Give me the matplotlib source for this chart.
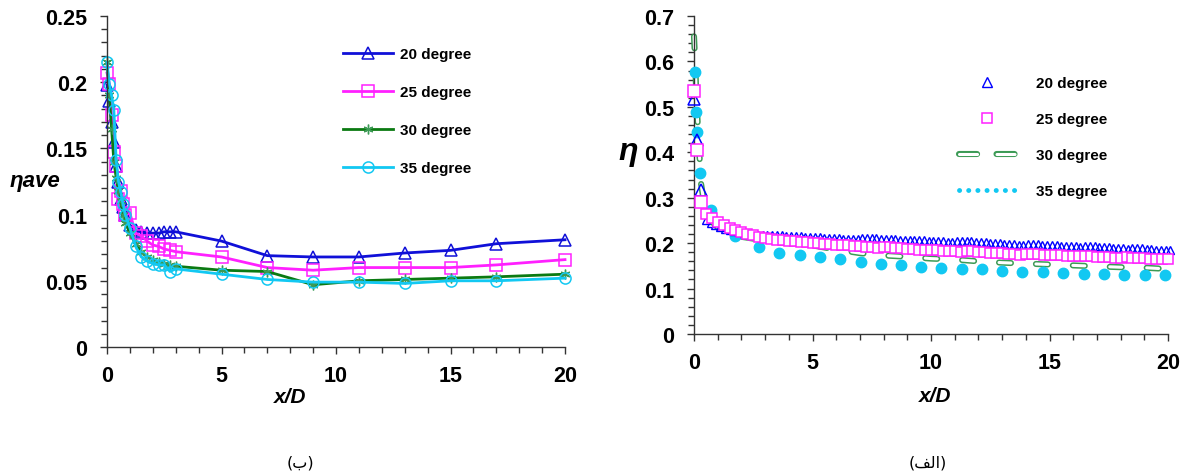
import numpy as np
import matplotlib
matplotlib.use('Agg')
import matplotlib.pyplot as plt
from matplotlib.lines import Line2D
from matplotlib.ticker import MultipleLocator, FuncFormatter
from matplotlib.legend_handler import HandlerTuple

plt.rcParams['font.family'] = ['Liberation Sans', 'DejaVu Sans']
plt.rcParams['font.weight'] = 'bold'
plt.rcParams['lines.scale_dashes'] = False

# ---------------- left chart (b): averaged effectiveness ----------------
labels = ['20 degree', '25 degree', '30 degree', '35 degree']

x_left = [0, 0.1, 0.2, 0.3, 0.4, 0.5, 0.6, 0.7, 0.8, 1.0, 1.25, 1.5, 1.75, 2.0,
          2.25, 2.5, 2.75, 3.0, 5, 7, 9, 11, 13, 15, 17, 20]
eta_ave_20 = [0.198, 0.186, 0.170, 0.155, 0.137, 0.125, 0.112, 0.106, 0.100, 0.092,
              0.088, 0.087, 0.086, 0.086, 0.086, 0.087, 0.087, 0.087,
              0.080, 0.069, 0.068, 0.068, 0.071, 0.073, 0.078, 0.081]
eta_ave_25 = [0.207, 0.199, 0.175, 0.147, 0.137, 0.112, 0.118, 0.108, 0.100, 0.101,
              0.086, 0.084, 0.080, 0.077, 0.076, 0.074, 0.073, 0.072,
              0.068, 0.060, 0.058, 0.060, 0.060, 0.060, 0.062, 0.066]
eta_ave_30 = [0.215, 0.190, 0.165, 0.140, 0.128, 0.118, 0.110, 0.100, 0.094, 0.086,
              0.078, 0.072, 0.068, 0.066, 0.064, 0.063, 0.062, 0.061,
              0.058, 0.057, 0.047, 0.050, 0.051, 0.052, 0.053, 0.055]
eta_ave_35 = [0.215, 0.199, 0.190, 0.179, 0.141, 0.125, 0.117, 0.108, 0.100, 0.090,
              0.076, 0.068, 0.065, 0.063, 0.062, 0.062, 0.057, 0.059,
              0.055, 0.051, 0.049, 0.049, 0.048, 0.050, 0.050, 0.052]

# ---------------- right chart (alef): local effectiveness ----------------
# 20 degree: three near-hole points, then dense stations every 0.2 x/D
x_20_near = [0.0, 0.14, 0.28]
eta_20_near = [0.518, 0.426, 0.316]
x_20 = np.round(np.arange(0.5, 20.2, 0.2), 2)
eta_20 = [0.252, 0.245, 0.240, 0.236, 0.232, 0.229, 0.227, 0.225, 0.223, 0.221, 0.220, 0.218, 0.217,
          0.218, 0.218, 0.217, 0.217, 0.216, 0.216, 0.215, 0.215, 0.214, 0.214,
          0.213, 0.213, 0.212, 0.212, 0.211, 0.211, 0.210, 0.210, 0.210, 0.209,
          0.212, 0.212, 0.211, 0.211, 0.210, 0.210, 0.209, 0.209, 0.208, 0.208,
          0.207, 0.207, 0.206, 0.206, 0.205, 0.205, 0.204, 0.204, 0.203, 0.203,
          0.205, 0.205, 0.204, 0.204, 0.203, 0.202, 0.202, 0.201, 0.200, 0.200,
          0.199, 0.199, 0.198, 0.197, 0.197,
          0.199, 0.198, 0.198, 0.197, 0.196, 0.196, 0.195, 0.194, 0.194, 0.193, 0.193, 0.192,
          0.194, 0.193, 0.193, 0.192, 0.191, 0.191, 0.190, 0.189, 0.189, 0.188,
          0.190, 0.189, 0.189, 0.188, 0.187, 0.186, 0.186, 0.185, 0.184]

# 25 degree: near-hole points, then stations every 0.25 x/D
x_25_near = [0.0, 0.14, 0.28]
eta_25_near = [0.536, 0.404, 0.290]
x_25 = np.arange(0.5, 20.01, 0.25)
eta_25 = [0.264, 0.255, 0.247, 0.240, 0.234, 0.229, 0.224, 0.220, 0.217, 0.214,
          0.212, 0.210, 0.208, 0.206, 0.205, 0.204, 0.203, 0.202, 0.201, 0.200,
          0.199, 0.198, 0.197, 0.196, 0.195, 0.194, 0.193, 0.192, 0.191, 0.190,
          0.192, 0.191, 0.190, 0.189, 0.188, 0.187, 0.186, 0.186, 0.185, 0.184,
          0.183, 0.183, 0.182, 0.181,
          0.183, 0.182, 0.181, 0.180, 0.179, 0.178, 0.178, 0.177, 0.176, 0.175,
          0.177, 0.176, 0.176, 0.175, 0.174, 0.173, 0.173, 0.172, 0.171, 0.171,
          0.172, 0.171, 0.170, 0.170, 0.169, 0.168, 0.168,
          0.169, 0.168, 0.167, 0.167, 0.166, 0.165, 0.165, 0.164]

# 30 degree: drawn as a hollow long-dash line
x_30 = [0, 0.05, 0.1, 0.2, 0.3, 0.45, 0.7, 1.0, 1.5, 2, 3, 4, 5, 6, 7, 8, 9, 10,
        11, 12, 13, 14, 15, 16, 17, 18, 19, 20]
eta_30 = [0.655, 0.600, 0.520, 0.420, 0.330, 0.280, 0.250, 0.235, 0.222, 0.214,
          0.206, 0.200, 0.195, 0.186, 0.178, 0.173, 0.170, 0.166, 0.164, 0.160,
          0.157, 0.155, 0.153, 0.151, 0.149, 0.147, 0.146, 0.143]

# 35 degree: big round dots
x_35 = [0.04, 0.08, 0.14, 0.25, 0.72, 1.75, 2.74, 3.6, 4.49, 5.32, 6.17, 7.04, 7.87,
        8.74, 9.57, 10.43, 11.29, 12.16, 12.99, 13.86, 14.72, 15.59, 16.46, 17.29,
        18.16, 19.02, 19.87]
eta_35 = [0.576, 0.488, 0.444, 0.355, 0.272, 0.215, 0.191, 0.179, 0.173, 0.169, 0.165,
          0.158, 0.153, 0.152, 0.148, 0.145, 0.142, 0.142, 0.138, 0.136, 0.136, 0.134,
          0.132, 0.132, 0.130, 0.129, 0.129]

W, H = 1183, 477
fig = plt.figure(figsize=(W / 100, H / 100), dpi=100)

BLUE = '#1010d8'
MAGENTA = '#ff20ff'
GREEN_LINE = '#0b7a12'
GREEN_MK = '#3c9a55'
CYAN = '#12c8f2'
AXCOL = '#333333'


def style_axes(ax, ymax, ymajor, yminor, xpad):
    ax.set_xlim(0, 20)
    ax.set_ylim(0, ymax)
    for s in ['top', 'right']:
        ax.spines[s].set_visible(False)
    for s in ['left', 'bottom']:
        ax.spines[s].set_color(AXCOL)
        ax.spines[s].set_linewidth(1.0)
    ax.xaxis.set_major_locator(MultipleLocator(5))
    ax.xaxis.set_minor_locator(MultipleLocator(1))
    ax.yaxis.set_major_locator(MultipleLocator(ymajor))
    ax.yaxis.set_minor_locator(MultipleLocator(yminor))
    ax.yaxis.set_major_formatter(FuncFormatter(lambda v, p: '%g' % round(v, 3)))
    ax.tick_params(which='both', direction='out', colors=AXCOL, labelcolor='black',
                   labelsize=15.5, width=1.0)
    ax.tick_params(which='major', length=5)
    ax.tick_params(which='minor', length=4)
    ax.tick_params(axis='y', which='major', pad=9)
    ax.tick_params(axis='x', which='major', pad=xpad)


# ---------------- left axes ----------------
ax1 = fig.add_axes([107 / W, 1 - 348 / H, 458 / W, 331 / H])
style_axes(ax1, 0.25, 0.05, 0.01, 8)
ax1.plot(x_left, eta_ave_20, color=BLUE, lw=2, marker='^', ms=8, mfc='none',
         mec=BLUE, mew=1.1, label=labels[0], clip_on=False)
ax1.plot(x_left, eta_ave_25, color=MAGENTA, lw=2, marker='s', ms=8, mfc='none',
         mec=MAGENTA, mew=1.1, label=labels[1], clip_on=False)
ax1.plot(x_left, eta_ave_30, color=GREEN_LINE, lw=2, marker=(6, 2, 0), ms=7,
         mec=GREEN_MK, mew=1.0, label=labels[2], clip_on=False)
ax1.plot(x_left, eta_ave_35, color=CYAN, lw=2, marker='o', ms=8, mfc='none',
         mec=CYAN, mew=1.1, label=labels[3], clip_on=False)
ax1.legend(loc='upper left', bbox_to_anchor=(343 / W, 1 - 48 / H),
           bbox_transform=fig.transFigure, frameon=False, fontsize=11,
           handlelength=3.3, handletextpad=0.45, labelspacing=1.57,
           borderpad=0, borderaxespad=0, numpoints=1)

fig.text(35 / W, 1 - 181 / H, 'ηave', fontsize=16, fontweight='bold',
         fontstyle='italic', ha='center', va='center')
fig.text(290 / W, 1 - 398 / H, 'x/D', fontsize=15, fontweight='bold',
         fontstyle='italic', ha='center', va='center')

# ---------------- right axes ----------------
ax2 = fig.add_axes([694 / W, 1 - 335 / H, 474 / W, 318 / H])
style_axes(ax2, 0.7, 0.1, 0.02, 8)

ax2.plot(x_30, eta_30, color=GREEN_MK, lw=4.4, dashes=(8.6, 18),
         dash_capstyle='round', solid_capstyle='round', clip_on=False, zorder=2)
ax2.plot(x_30, eta_30, color='white', lw=2.2, dashes=(8.6, 18),
         dash_capstyle='round', clip_on=False, zorder=2.1)
ax2.plot(x_35, eta_35, ls='none', marker='o', ms=7.5, color=CYAN, mec=CYAN,
         clip_on=False, zorder=3)
ax2.plot(x_20, eta_20, ls='none', marker='^', ms=5.5, mfc='none', mec='#0000ff',
         mew=1.0, clip_on=False, zorder=4)
ax2.plot(x_20_near, eta_20_near, ls='none', marker='^', ms=9, mfc='none',
         mec='#0000ff', mew=1.1, clip_on=False, zorder=4)
ax2.plot(x_25, eta_25, ls='none', marker='s', ms=7.8, mfc='white', mec=MAGENTA,
         mew=1.1, clip_on=False, zorder=5)
ax2.plot(x_25_near, eta_25_near, ls='none', marker='s', ms=8.5, mfc='white',
         mec=MAGENTA, mew=1.1, clip_on=False, zorder=5)

h20 = Line2D([], [], ls='none', marker='^', ms=7, mfc='none', mec='#0000ff', mew=1.0)
h25 = Line2D([], [], ls='none', marker='s', ms=7.5, mfc='none', mec=MAGENTA, mew=1.1)
h30a = Line2D([], [], color=GREEN_MK, lw=4.4, dashes=(13, 14), dash_capstyle='round')
h30b = Line2D([], [], color='white', lw=2.2, dashes=(13, 14), dash_capstyle='round')
h35 = Line2D([], [], color=CYAN, lw=3.5, dashes=(0.1, 6.5), dash_capstyle='round')
ax2.legend(handles=[h20, h25, (h30a, h30b), h35], labels=labels,
           handler_map={tuple: HandlerTuple(ndivide=1)},
           loc='upper left', bbox_to_anchor=(959 / W, 1 - 77 / H),
           bbox_transform=fig.transFigure, frameon=False, fontsize=11,
           handlelength=3.65, handletextpad=1.4, labelspacing=1.44,
           borderpad=0, borderaxespad=0, numpoints=1)

fig.text(628 / W, 1 - 152 / H, 'η', fontsize=23, fontweight='bold',
         fontstyle='italic', ha='center', va='center')
fig.text(935 / W, 1 - 396 / H, 'x/D', fontsize=15, fontweight='bold',
         fontstyle='italic', ha='center', va='center')

# captions, Arabic letters in visual (presentation-form) order
fig.text(300 / W, 1 - 463 / H, '(\ufe8f)', fontsize=11.5, fontweight='normal',
         family=['DejaVu Sans'], ha='center', va='center')
fig.text(928 / W, 1 - 463 / H, '(\ufed2\ufedf\ufe8d)', fontsize=11.5, fontweight='normal',
         family=['DejaVu Sans'], ha='center', va='center')

fig.savefig('out.png', dpi=100)
